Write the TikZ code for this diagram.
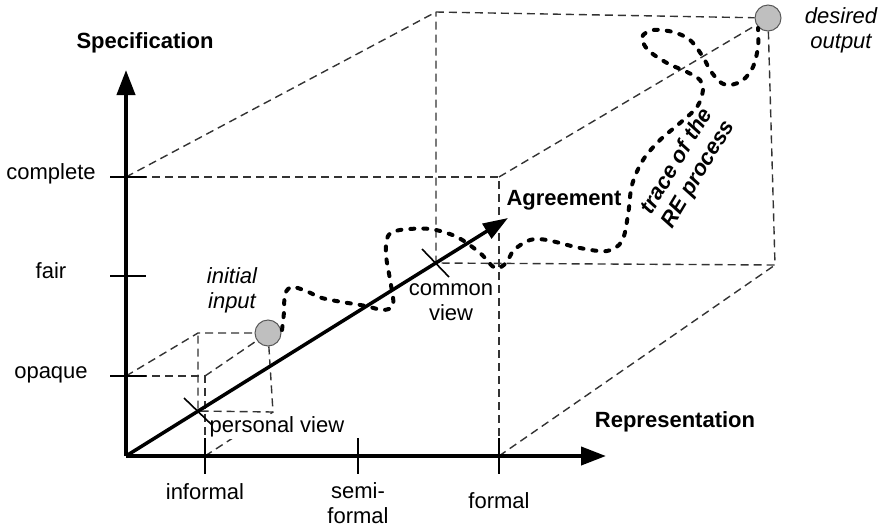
\documentclass[tikz,border=0pt]{standalone}
\usepackage{fontspec}
\setmainfont{Liberation Sans}
\usetikzlibrary{arrows.meta}
\begin{document}
\begin{tikzpicture}[x=1pt,y=-1pt,
  axis/.style={line width=4pt,-{Triangle[length=25pt,width=18pt]}},
  mainarrow/.style={line width=3.5pt,-{Triangle[length=25pt,width=17pt]}},
  tickmark/.style={line width=2.2pt},
  crossmark/.style={line width=1.6pt},
  guide/.style={draw=black!80, line width=1.4pt, dash pattern=on 8pt off 5pt},
  tracepath/.style={line width=4pt, line cap=round, dash pattern=on 4pt off 9pt},
  statedot/.style={circle, draw=black!65, fill=black!25, minimum size=26pt, inner sep=0pt, line width=1pt},
  lbl/.style={font=\fontsize{22}{25}\selectfont, inner sep=0pt, align=center},
  axislbl/.style={lbl, font=\fontsize{22}{25}\selectfont\bfseries},
  notelbl/.style={lbl, font=\fontsize{22}{25}\selectfont\itshape}
]
\useasboundingbox (0,0) rectangle (885,528);

% axes origin and ends
\coordinate (O) at (126,456);
\coordinate (ytip) at (126,70);
\coordinate (xtip) at (606,456);

% front face of the large box
\coordinate (F1) at (126,177);
\coordinate (F2) at (499,177);
\coordinate (F3) at (499,456);
% back face of the large box
\coordinate (B1) at (436,12);
\coordinate (B2) at (775,12);
\coordinate (B3) at (775,265);
\coordinate (B4) at (436,263);
% front face of the small box
\coordinate (f1) at (126,376);
\coordinate (f2) at (205,376);
\coordinate (f3) at (205,456);
% back face of the small box
\coordinate (b1) at (198,333);
\coordinate (b2) at (273,333);
\coordinate (b3) at (273,412);
\coordinate (b4) at (198,411);
% head of the agreement arrow
\coordinate (agree) at (508,218);

% states
\node[statedot] (init) at (268,333) {};
\node[statedot] (goal) at (768,18) {};

% large box
\draw[guide] (F1) -- (F2) -- (F3);
\draw[guide] (F1) -- (B1) -- (goal);
\draw[guide] (F2) -- (goal);
\draw[guide] (goal) -- (B3) -- (B4) -- (B1);
\draw[guide] (F3) -- (B3);

% small box
\draw[guide] (f1) -- (f2) -- (f3);
\draw[guide] (f1) -- (b1) -- (init);
\draw[guide] (f2) -- (init);
\draw[guide] (init) -- (b3) -- (b4) -- (b1);
\draw[guide] (f3) -- (b3);

% labels along the axes
\node[lbl, anchor=mid, fill=white, inner sep=1.5pt] (pview) at (277,430) {personal view};
\node[lbl] (cview) at (451,302) {common\\view};

% trace of the process
\draw[tracepath] plot[smooth, tension=0.55] coordinates {
  (282,330) (284,312) (285,294) (292,287) (306,291) (322,298) (342,302)
  (366,306) (383,310) (393,305) (391,285) (386,255) (388,236) (400,230)
  (430,229) (457,237) (480,253) (495,268) (506,263) (514,250) (530,240)
  (547,240) (580,248) (607,251) (622,241) (628,215) (632,185) (643,160)
  (660,140) (680,123) (697,107) (703,90) (700,80) (687,72) (667,63)
  (648,50) (642,37) (653,30) (673,32) (690,40) (703,57) (710,70)
  (720,82) (730,85) (743,80) (753,67) (758,47) (758,28)};

% axes
\draw[axis] (O) -- (ytip);
\draw[axis] (O) -- (xtip);
\draw[mainarrow] (O) -- (agree);

% ticks on the specification axis
\foreach \yy in {177,276,376}
  \draw[tickmark] (110,\yy) -- (146,\yy);
% ticks on the representation axis
\foreach \xx in {205,358,499}
  \draw[tickmark] (\xx,438) -- (\xx,474);

% view crosses
\draw[crossmark] (184,398) -- (212,425);
\draw[crossmark] (422,249) -- (449,277);

% axis names
\node[axislbl, anchor=mid] (spec) at (145,46) {Specification};
\node[axislbl, anchor=mid] (repr) at (675,425) {Representation};
\node[axislbl, anchor=mid] (agr) at (564,203) {Agreement};

% scale labels
\node[lbl, anchor=mid] (lcomplete) at (51,177) {complete};
\node[lbl, anchor=mid] (lfair) at (51,276) {fair};
\node[lbl, anchor=mid] (lopaque) at (51,376) {opaque};
\node[lbl, anchor=mid] (linformal) at (205,497) {informal};
\node[lbl] (lsemi) at (358,503) {semi-\\formal};
\node[lbl, anchor=mid] (lformal) at (499,506) {formal};

% notes
\node[notelbl] (ninit) at (232,290) {initial\\input};
\node[notelbl] (ngoal) at (841,30) {desired\\output};
\node[lbl, font=\fontsize{22}{25}\selectfont\bfseries\itshape, rotate=59] (ntrace) at (688,168) {trace of the\\RE process};
\end{tikzpicture}
\end{document}
